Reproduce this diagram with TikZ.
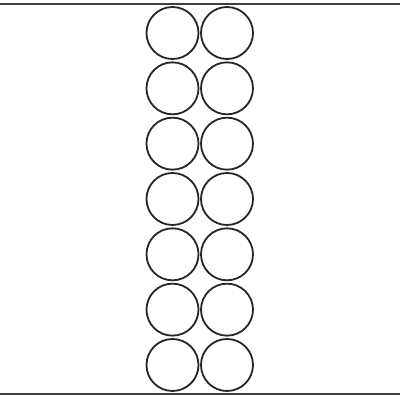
\documentclass[tikz,border=0pt]{standalone}
\begin{document}
\begin{tikzpicture}[x=1pt,y=-1pt,
  label circle/.style={draw=black!85,line width=1.8pt,circle,minimum size=52pt,inner sep=0pt},
  edge line/.style={draw=black!75,line width=2pt}]
\useasboundingbox (0,0) rectangle (400,400);
\fill[white] (0,0) rectangle (400,400);
\coordinate (tl) at (0,3.8);
\coordinate (tr) at (400,3.8);
\coordinate (bl) at (0,394.3);
\coordinate (br) at (400,394.3);
\draw[edge line] (tl) -- (tr);
\draw[edge line] (bl) -- (br);
\foreach \r in {0,...,6}{
  \node[label circle] (L\r) at (172.5,{33+55.33*\r}) {};
  \node[label circle] (R\r) at (227,{33+55.33*\r}) {};
}
\end{tikzpicture}
\end{document}
